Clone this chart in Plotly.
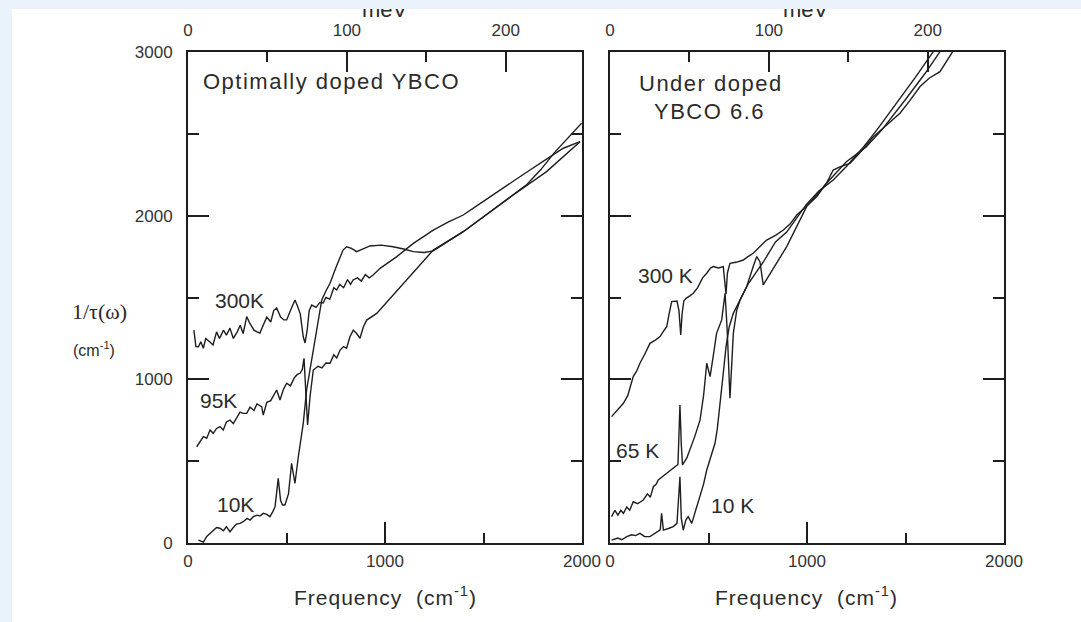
import plotly.graph_objects as go

# ---------------- data ----------------
# Left panel: optimally doped YBCO, frequency (cm^-1) vs 1/tau (cm^-1)
L300_f = [30,40,53,65,78,90,110,127,145,160,180,195,213,230,250,265,280,298,315,335,350,365,385,400,420,435,450,470,487,501,520,543,555,570,585,594,605,615,628,650,670,686,700,720,740,755,770,790,810,825,838,860,880,900,920,940,975,1060,1144,1245,1320,1397,1490,1584,1660,1736,1820,1905,1990]
L300_v = [1301,1200,1199,1230,1190,1250,1230,1210,1290,1250,1300,1270,1313,1250,1290,1330,1280,1383,1340,1300,1290,1283,1340,1380,1350,1420,1436,1380,1363,1363,1420,1485,1450,1400,1260,1222,1300,1420,1454,1440,1470,1466,1500,1490,1560,1546,1580,1560,1610,1580,1607,1620,1600,1640,1620,1637,1678,1750,1831,1912,1960,2004,2080,2157,2220,2279,2345,2412,2452]

L95_f = [44,60,78,95,112,128,145,162,179,195,213,230,250,264,280,298,315,335,350,374,382,400,420,435,450,467,485,501,520,540,555,569,580,589,598,607,620,636,660,680,700,721,740,755,772,790,805,822,839,856,873,890,907,930,958,1245,1397,1651,1820,1990]
L95_v = [588,620,650,640,690,670,700,711,690,740,751,730,770,800,792,792,830,810,850,833,782,860,870,900,935,874,940,976,960,1010,1030,1037,1060,1128,900,721,900,1057,1080,1070,1100,1098,1150,1130,1179,1200,1190,1260,1301,1280,1251,1320,1362,1380,1403,1790,1902,2126,2269,2452]

L10_f = [53,65,78,95,112,130,145,162,180,195,213,230,245,264,280,300,315,332,350,365,382,400,416,430,442,458,470,480,492,510,526,535,543,560,585,602,619,636,653,679,700,721,750,787,805,830,856,890,924,980,1041,1100,1143,1200,1245,1397,1651,1720,1790,1860,1998]
L10_v = [18,10,5,40,59,80,95,90,75,100,69,95,115,120,130,150,140,161,170,165,181,175,161,190,222,395,260,232,232,300,487,420,365,527,731,935,1057,1170,1281,1485,1540,1587,1680,1790,1810,1800,1780,1800,1815,1820,1810,1795,1780,1775,1785,1902,2126,2190,2280,2385,2565]

# Right panel: under doped YBCO 6.6
R300_f = [8,30,50,68,90,118,135,152,175,203,230,254,275,288,300,313,340,350,359,366,375,386,405,423,445,470,491,510,524,550,575,582,589,596,609,640,677,700,727,760,795,840,880,915,948,1000,1049,1100,1133,1170,1218,1280,1337,1400,1472,1520,1574,1620,1675,1734,1760]
R300_v = [772,800,830,854,900,1017,1050,1098,1150,1220,1240,1261,1300,1322,1400,1475,1478,1420,1271,1400,1480,1495,1510,1526,1560,1620,1648,1680,1689,1680,1689,1600,1520,1650,1709,1715,1729,1750,1770,1810,1851,1880,1912,1950,2004,2060,2116,2200,2279,2300,2320,2400,2483,2550,2626,2700,2789,2840,2880,2992,3040]

R65_f = [8,25,40,55,68,85,100,118,140,169,190,205,220,235,245,260,290,305,330,345,355,362,368,390,406,430,457,475,491,508,525,541,567,584,595,609,626,643,660,694,727,745,761,778,897,998,1100,1200,1300,1379,1500,1600,1675,1700]
R65_v = [161,200,170,200,181,220,200,252,240,263,300,280,344,360,385,400,430,446,466,480,843,600,477,520,568,650,751,900,1098,1017,1150,1281,1363,1526,1300,884,1281,1420,1485,1567,1689,1750,1719,1577,1811,2055,2200,2330,2420,2523,2710,2870,3002,3040]

R10_f = [8,40,60,85,110,130,152,175,203,230,255,262,271,300,321,340,355,362,372,385,397,415,435,457,475,491,510,533,545,558,575,589,605,626,645,660,700,740,780,840,897,950,998,1060,1133,1200,1280,1354,1450,1550,1641,1670]
R10_v = [18,30,20,39,50,45,59,40,39,60,80,181,79,90,100,120,405,150,79,140,161,120,200,283,360,446,520,609,700,833,1037,1200,1320,1403,1450,1485,1580,1650,1720,1840,1900,1990,2070,2150,2218,2300,2410,2523,2680,2845,3002,3050]

X_TICKS = [0, 1000, 2000]
X_MINOR = [500, 1500]
Y_TICKS = [0, 1000, 2000, 3000]
Y_MINOR = [500, 1500, 2500]
MEV_TICKS = [0, 100, 200]
MEV_MINOR = [50, 150]
CM_PER_MEV = 8.0655

# ---------------- figure ----------------
W, H = 1081, 622
def PX(x): return x / W
def PY(y): return 1 - y / H

BAND = "#EAF2FC"
INK = "#1e1e1e"
TXT = "#2b2b2b"
SANS = "Liberation Sans, Arial, sans-serif"
SERIF = "Liberation Serif, Times New Roman, serif"

fig = go.Figure()
ln = dict(color=INK, width=1.4)
for f, v in [(L300_f, L300_v), (L95_f, L95_v), (L10_f, L10_v)]:
    fig.add_trace(go.Scatter(x=f, y=v, mode="lines", line=ln, xaxis="x", yaxis="y", showlegend=False, hoverinfo="skip"))
for f, v in [(R300_f, R300_v), (R65_f, R65_v), (R10_f, R10_v)]:
    fig.add_trace(go.Scatter(x=f, y=v, mode="lines", line=ln, xaxis="x2", yaxis="y2", showlegend=False, hoverinfo="skip"))
# carriers for the top meV axes
fig.add_trace(go.Scatter(x=[None], y=[None], xaxis="x3", yaxis="y", showlegend=False, hoverinfo="skip"))
fig.add_trace(go.Scatter(x=[None], y=[None], xaxis="x4", yaxis="y2", showlegend=False, hoverinfo="skip"))

tickfont = dict(family=SANS, size=17, color="#333333")

def xbottom(domain, anchor):
    return dict(domain=domain, anchor=anchor, range=[0, 2000], tickmode="array", tickvals=X_TICKS,
                ticks="inside", ticklen=21, tickwidth=1.6, tickcolor=INK,
                minor=dict(tickmode="array", tickvals=X_MINOR, ticks="inside", ticklen=10, tickwidth=1.6, tickcolor=INK),
                showline=True, linewidth=2, linecolor=INK, mirror=True, automargin=False,
                showgrid=False, zeroline=False, tickfont=tickfont, ticklabelstandoff=2)

def xtop(over, anchor):
    return dict(overlaying=over, anchor=anchor, side="top", range=[0, 2000 / CM_PER_MEV],
                tickmode="array", tickvals=MEV_TICKS, automargin=False,
                ticks="inside", ticklen=20, tickwidth=1.6, tickcolor=INK,
                minor=dict(tickmode="array", tickvals=MEV_MINOR, ticks="inside", ticklen=10, tickwidth=1.6, tickcolor=INK),
                showline=False, showgrid=False, zeroline=False, tickfont=tickfont, ticklabelstandoff=12)

def yax(anchor, labels):
    return dict(domain=[PY(543), PY(52)], anchor=anchor, range=[0, 3000], tickmode="array", tickvals=Y_TICKS,
                ticks="inside", ticklen=21, tickwidth=1.6, tickcolor=INK, automargin=False,
                minor=dict(tickmode="array", tickvals=Y_MINOR, ticks="inside", ticklen=11, tickwidth=1.6, tickcolor=INK),
                showline=True, linewidth=2, linecolor=INK, mirror="ticks",
                showgrid=False, zeroline=False, showticklabels=labels, tickfont=tickfont, ticklabelstandoff=10)

fig.update_layout(
    width=W, height=H, margin=dict(l=0, r=0, t=0, b=0, autoexpand=False),
    paper_bgcolor="white", plot_bgcolor="rgba(0,0,0,0)",
    xaxis=xbottom([PX(188), PX(582)], "y"),
    xaxis2=xbottom([PX(610), PX(1004)], "y2"),
    xaxis3=xtop("x", "y"),
    xaxis4=xtop("x2", "y2"),
    yaxis=yax("x", True),
    yaxis2=yax("x2", False),
    showlegend=False,
)

fig.add_shape(type="rect", xref="paper", yref="paper", x0=0, x1=PX(12), y0=0, y1=1,
              fillcolor=BAND, line=dict(width=0), layer="below")
fig.add_shape(type="rect", xref="paper", yref="paper", x0=0, x1=1, y0=PY(9), y1=1,
              fillcolor=BAND, line=dict(width=0), layer="below")

def ann(text, x, y, size=21, xanchor="center", family=SANS, spacing=0):
    if spacing:
        text = f'<span style="letter-spacing:{spacing}px">{text}</span>'
    fig.add_annotation(text=text, x=PX(x), y=PY(y), xref="paper", yref="paper", showarrow=False,
                       xanchor=xanchor, yanchor="middle", font=dict(family=family, size=size, color=TXT))

ann("Optimally doped YBCO", 201, 81, size=22, xanchor="left", spacing=1.5)
ann("300K", 240, 300)
ann("95K", 218, 400)
ann("10K", 235, 504)
ann("Under doped", 711, 83, size=22, spacing=1.5)
ann("YBCO 6.6", 709, 111, size=22, spacing=1.5)
ann("300 K", 665, 275)
ann("65 K", 637, 450)
ann("10 K", 732, 505)
ann("1/τ(ω)", 99, 311, size=22, family=SERIF)
ann("(cm<sup>-1</sup>)", 94, 349, size=16)
ann("Frequency  (cm<sup>-1</sup>)", 385, 596, size=21, spacing=1)
ann("Frequency  (cm<sup>-1</sup>)", 806, 596, size=21, spacing=1)
ann("meV", 385, 10, size=22)
ann("meV", 806, 10, size=22)

# small band patches drawn over the cut-off tops of the "meV" titles
for cx in (385, 806):
    fig.add_annotation(text="&nbsp;", x=PX(cx), y=1, xref="paper", yref="paper", xanchor="center", yanchor="top",
                       width=70, height=9, bgcolor=BAND, borderpad=0, borderwidth=0, showarrow=False,
                       font=dict(size=4, color=BAND))

fig.write_html("out.html")
